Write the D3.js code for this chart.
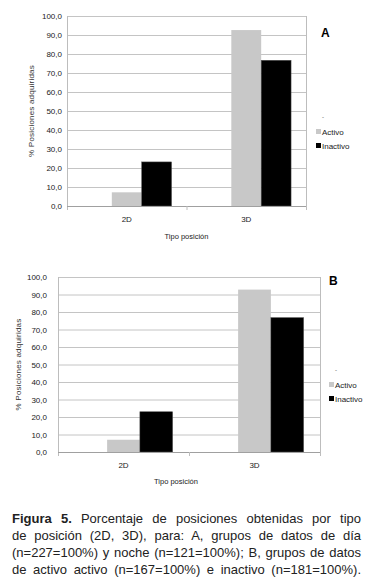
<!DOCTYPE html>
<html>
<head>
<meta charset="utf-8">
<script src="https://cdn.jsdelivr.net/npm/d3@7"></script>
<style>
  body { margin: 0; background: #fff; }
  #wrap { position: relative; width: 374px; height: 585px; overflow: hidden; }
  svg { position: absolute; left: 0; top: 0; }
  .cap { position: absolute; left: 12px; width: 349px; font-family: "Liberation Sans", Arial, sans-serif;
         font-size: 13px; color: #222; text-align: justify; text-align-last: justify; white-space: nowrap; line-height: 17px; }
</style>
</head>
<body>
<div id="wrap"></div>
<script>

// categorías y series
var categories = ['2D', '3D'];
var seriesNames = ['-', 'Activo', 'Inactivo'];   // la primera serie está vacía
var yTicks = [0, 10, 20, 30, 40, 50, 60, 70, 80, 90, 100];

var activoA = [7.2, 92.6];
var inactivoA = [23.2, 76.7];
var activoB = [7.0, 92.8];
var inactivoB = [23.0, 76.8];

var captionLines = [
  ['Figura 5.', ' Porcentaje de posiciones obtenidas por tipo'],
  ['', 'de posición (2D, 3D), para: A, grupos de datos de día'],
  ['', '(n=227=100%) y noche (n=121=100%); B, grupos de datos'],
  ['', 'de activo activo (n=167=100%) e inactivo (n=181=100%).']
];

var fillColor = d3.scaleOrdinal()
  .domain(seriesNames)
  .range(['none', '#c8c8c8', '#000000']);

var svg = d3.select('#wrap').append('svg')
  .attr('width', 374)
  .attr('height', 585)
  .style('font-family', '"Liberation Sans", Arial, sans-serif');

function drawPanel(cfg) {
  var g = svg.append('g');

  var x = d3.scaleBand().domain(categories).range([cfg.left, cfg.right]);
  var inner = d3.scaleBand().domain(seriesNames).range([0, x.bandwidth()]).paddingOuter(0.5);
  var y = d3.scaleLinear().domain([0, 100]).range([cfg.bottom, cfg.top]);

  // grid
  g.selectAll('.grid').data(yTicks.slice(1)).enter().append('line')
    .attr('x1', cfg.left).attr('x2', cfg.right)
    .attr('y1', function (d) { return y(d) + 0.5; })
    .attr('y2', function (d) { return y(d) + 0.5; })
    .attr('stroke', '#c4c4c4');

  // left & right border
  g.append('line').attr('x1', cfg.left + 0.5).attr('x2', cfg.left + 0.5)
    .attr('y1', cfg.top).attr('y2', cfg.bottom + 4).attr('stroke', '#bdbdbd');
  g.append('line').attr('x1', cfg.right + 0.5).attr('x2', cfg.right + 0.5)
    .attr('y1', cfg.top).attr('y2', cfg.bottom + 4).attr('stroke', '#bdbdbd');

  // bars
  var data = [];
  categories.forEach(function (c, i) {
    data.push({ cat: c, s: 'Activo', v: cfg.activo[i] });
    data.push({ cat: c, s: 'Inactivo', v: cfg.inactivo[i] });
  });
  g.selectAll('.bar').data(data).enter().append('rect')
    .attr('x', function (d) { return x(d.cat) + inner(d.s); })
    .attr('width', inner.bandwidth())
    .attr('y', function (d) { return y(d.v); })
    .attr('height', function (d) { return y(0) - y(d.v); })
    .attr('fill', function (d) { return fillColor(d.s); })
    .attr('stroke', function (d) { return d.s === 'Inactivo' ? '#555' : 'none'; })
    .attr('stroke-width', 0.5);

  // x axis line + category ticks
  g.append('line').attr('x1', cfg.left).attr('x2', cfg.right)
    .attr('y1', y(0) + 0.5).attr('y2', y(0) + 0.5).attr('stroke', '#a0a0a0');
  var xAxis = d3.axisBottom(x).tickSize(0).tickPadding(0);
  var xg = g.append('g').attr('transform', 'translate(0,' + cfg.bottom + ')').call(xAxis);
  xg.select('.domain').remove();
  xg.selectAll('text').attr('dy', cfg.catDy).attr('font-size', 8).attr('fill', '#222')
    .style('font-family', '"Liberation Sans", Arial, sans-serif');
  g.append('line')
    .attr('x1', x('3D') + 0.5).attr('x2', x('3D') + 0.5)
    .attr('y1', cfg.bottom).attr('y2', cfg.bottom + 4).attr('stroke', '#bdbdbd');

  // y axis
  var yAxis = d3.axisLeft(y).tickValues(yTicks).tickSize(0).tickPadding(cfg.tickPad)
    .tickFormat(function (d) { return d3.format('.1f')(d).replace('.', ','); });
  var yg = g.append('g').attr('transform', 'translate(' + cfg.left + ',0)').call(yAxis);
  yg.select('.domain').remove();
  yg.selectAll('text').attr('font-size', 8).attr('fill', '#222')
    .style('font-family', '"Liberation Sans", Arial, sans-serif');

  // axis titles
  g.append('text')
    .attr('x', (cfg.left + cfg.right) / 2 + cfg.xTitleShift)
    .attr('y', cfg.xTitleY)
    .attr('text-anchor', 'middle').attr('font-size', 7.5).attr('fill', '#222')
    .text('Tipo posición');
  g.append('text')
    .attr('transform', 'translate(' + cfg.yTitleX + ',' + (cfg.top + cfg.bottom) / 2 + ') rotate(-90)')
    .attr('text-anchor', 'middle').attr('font-size', 8).attr('fill', '#333')
    .attr('letter-spacing', 0.2)
    .text('% Posiciones adquiridas');

  // panel letter
  g.append('text').attr('x', cfg.letterX).attr('y', cfg.letterY)
    .attr('font-size', 12).attr('font-weight', 'bold').attr('fill', '#000')
    .text(cfg.letter);

  // legend
  var leg = g.append('g').attr('transform', 'translate(' + cfg.legX + ',' + cfg.legY + ')');
  leg.append('text').attr('x', 6).attr('y', 0).attr('font-size', 6).attr('fill', '#444').text('-');
  var items = leg.selectAll('.item').data(seriesNames.slice(1)).enter().append('g')
    .attr('transform', function (d, i) { return 'translate(0,' + (10 + i * 14) + ')'; });
  items.append('rect').attr('x', 0).attr('y', 0).attr('width', 5).attr('height', 5)
    .attr('fill', function (d) { return fillColor(d); });
  items.append('text').attr('x', 6).attr('y', 6).attr('font-size', 8).attr('fill', '#222')
    .text(function (d) { return d; });
}

drawPanel({
  left: 67, right: 306, top: 16, bottom: 206,
  activo: activoA, inactivo: inactivoA,
  catDy: 16, tickPad: 5, xTitleY: 239, xTitleShift: 0, yTitleX: 34,
  letter: 'A', letterX: 321, letterY: 37,
  legX: 316, legY: 119
});

drawPanel({
  left: 58, right: 320, top: 277, bottom: 452,
  activo: activoB, inactivo: inactivoB,
  catDy: 16, tickPad: 11, xTitleY: 484, xTitleShift: -13, yTitleX: 21,
  letter: 'B', letterX: 329, letterY: 285,
  legX: 329, legY: 372
});

// pie de figura
var cap = d3.select('#wrap').selectAll('.cap').data(captionLines).enter().append('div')
  .attr('class', 'cap')
  .style('top', function (d, i) { return (510 + i * 17) + 'px'; });
cap.append('b').text(function (d) { return d[0]; });
cap.append('span').text(function (d) { return d[1]; });

</script>
</body>
</html>
